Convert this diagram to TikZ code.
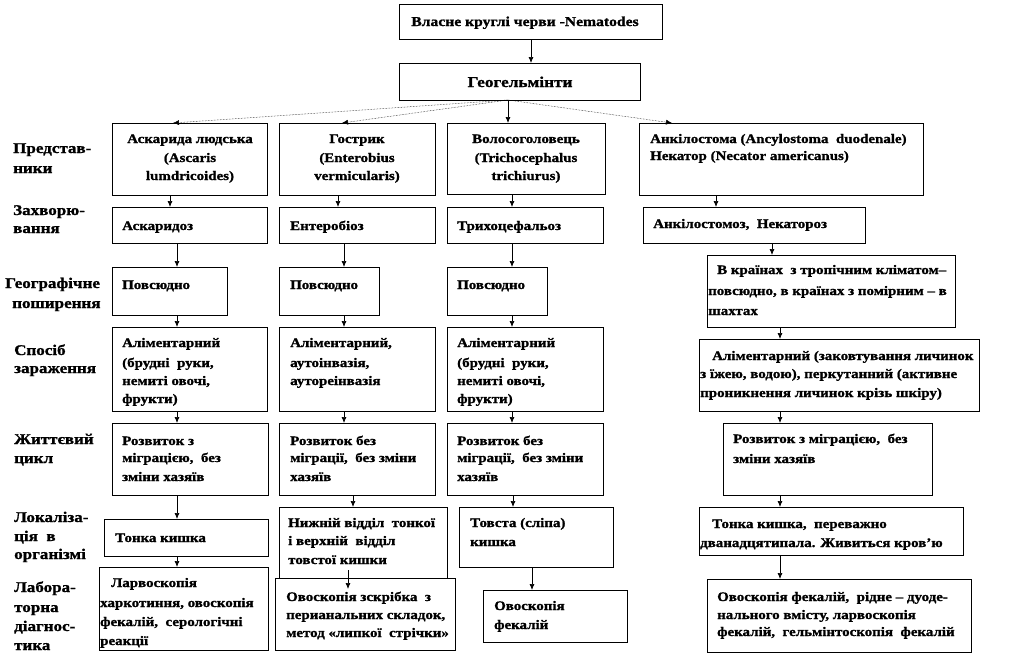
\documentclass[tikz,border=0pt]{standalone}
\usepackage{fontspec}
\newfontfamily\dfont{Liberation Serif Bold}[FakeStretch=1.15,FakeBold=1.2]
\usetikzlibrary{arrows.meta}
\newcommand\bx[5]{\node[box, minimum width={(#4-(#2))*1pt}, minimum height={(#5-(#3))*1pt}] (#1) at (#2,#3) {};}
\newcommand\tline[4]{\node[txt, anchor=base west] (#1) at (#2,#3) {#4};}
\newcommand\lline[4]{\node[txt, lbl, anchor=base west] (#1) at (#2,#3) {#4};}
\newcommand\tcen[4]{\node[txt, anchor=base] (#1) at (#2,#3) {#4};}
\newcommand\conn[3]{\path (#3,0) coordinate (tmpx); \draw[arr] (#1.south -| tmpx) -- (#2.north -| tmpx);}
\begin{document}
\begin{tikzpicture}[x=1pt,y=-1pt,
  box/.style={draw, line width=0.8pt, fill=white, inner sep=0pt, outer sep=0pt, anchor=north west},
  txt/.style={inner sep=0pt, font=\dfont\fontsize{13}{16}\selectfont},
  lbl/.style={font=\dfont\fontsize{14.8}{18}\selectfont},
  arr/.style={line width=0.7pt, -{Latex[length=6pt,width=5pt]}},
  darr/.style={line width=0.5pt, densely dotted, -{Latex[length=6pt,width=5pt]}}]
\fill[white] (0,0) rectangle (1019,654);
\useasboundingbox (0,0) rectangle (1019,654);

% title
\bx{top}{399}{4}{662}{39}
\node[txt, font=\dfont\fontsize{13.6}{16}\selectfont, anchor=base] (topt) at (525,26) {Власне круглі черви -Nematodes};
\bx{geo}{399}{63}{640}{100}
\node[txt, font=\dfont\fontsize{15}{18}\selectfont, anchor=base] (geot) at (520,87) {Геогельмінти};

% left labels
\lline{l1a}{13}{153}{Представ-}
\lline{l1b}{13}{173}{ники}
\lline{l2a}{13}{215}{Захворю-}
\lline{l2b}{13}{233}{вання}
\lline{l3a}{5}{288}{Географічне}
\lline{l3b}{12}{308}{поширення}
\lline{l4a}{14}{355}{Спосіб}
\lline{l4b}{14}{373}{зараження}
\lline{l5a}{14}{444}{Життєвий}
\lline{l5b}{14}{463}{цикл}
\lline{l6a}{14}{522}{Локаліза-}
\lline{l6b}{14}{541}{ція~~в}
\lline{l6c}{14}{559}{організмі}
\lline{l7a}{14}{592}{Лабора-}
\lline{l7b}{14}{612}{торна}
\lline{l7c}{14}{631}{діагнос-}
\lline{l7d}{14}{650}{тика}

% row 1
\bx{a1}{112}{123}{267}{195}
\tcen{a1a}{190}{143}{Аскарида людська}
\tcen{a1b}{190}{162}{(Ascaris}
\tcen{a1c}{190}{180}{lumdricoides)}
\bx{b1}{279}{123}{435}{195}
\tcen{b1a}{357}{143}{Гострик}
\tcen{b1b}{357}{162}{(Enterobius}
\tcen{b1c}{357}{180}{vermicularis)}
\bx{c1}{447}{123}{605}{194}
\tcen{c1a}{526}{143}{Волосоголовець}
\tcen{c1b}{526}{162}{(Trichocephalus}
\tcen{c1c}{526}{180}{trichiurus)}
\bx{d1}{639}{123}{923}{195}
\tline{d1a}{650}{143}{Анкілостома (Ancylostoma~ duodenale)}
\tline{d1b}{650}{160}{Некатор (Necator americanus)}

% row 2
\bx{a2}{112}{207}{267}{243}
\tline{a2a}{122}{230}{Аскаридоз}
\bx{b2}{279}{207}{435}{243}
\tline{b2a}{290}{230}{Ентеробіоз}
\bx{c2}{447}{207}{603}{243}
\tline{c2a}{457}{230}{Трихоцефальоз}
\bx{d2}{643}{207}{865}{243}
\tline{d2a}{653}{228}{Анкілостомоз,~ Некатороз}

% row 3
\bx{a3}{112}{267}{227}{315}
\tline{a3a}{122}{289}{Повсюдно}
\bx{b3}{279}{267}{379}{315}
\tline{b3a}{290}{289}{Повсюдно}
\bx{c3}{447}{267}{547}{315}
\tline{c3a}{457}{289}{Повсюдно}
\bx{d3}{707}{255}{955}{327}
\tline{d3a}{717}{274}{В країнах~ з тропічним кліматом–}
\tline{d3b}{708}{295}{повсюдно, в країнах з помірним – в}
\tline{d3c}{708}{315}{шахтах}

% row 4
\bx{a4}{112}{327}{267}{411}
\tline{a4a}{122}{347}{Аліментарний}
\tline{a4b}{122}{367}{(брудні~ руки,}
\tline{a4c}{122}{385}{немиті овочі,}
\tline{a4d}{122}{403}{фрукти)}
\bx{b4}{279}{327}{435}{411}
\tline{b4a}{290}{347}{Аліментарний,}
\tline{b4b}{290}{367}{аутоінвазія,}
\tline{b4c}{290}{385}{аутореінвазія}
\bx{c4}{447}{327}{603}{411}
\tline{c4a}{457}{347}{Аліментарний}
\tline{c4b}{457}{367}{(брудні~ руки,}
\tline{c4c}{457}{385}{немиті овочі,}
\tline{c4d}{457}{403}{фрукти)}
\bx{d4}{699}{339}{979}{411}
\tline{d4a}{712}{360}{Аліментарний (заковтування личинок}
\tline{d4b}{700}{378}{з їжею, водою), перкутанний (активне}
\tline{d4c}{700}{397}{проникнення личинок крізь шкіру)}

% row 5
\bx{a5}{112}{423}{268}{495}
\tline{a5a}{122}{445}{Розвиток з}
\tline{a5b}{122}{462}{міграцією,~ без}
\tline{a5c}{122}{481}{зміни хазяїв}
\bx{b5}{279}{423}{435}{495}
\tline{b5a}{290}{445}{Розвиток без}
\tline{b5b}{290}{462}{міграції,~ без зміни}
\tline{b5c}{290}{481}{хазяїв}
\bx{c5}{447}{423}{603}{495}
\tline{c5a}{457}{445}{Розвиток без}
\tline{c5b}{457}{462}{міграції,~ без зміни}
\tline{c5c}{457}{481}{хазяїв}
\bx{d5}{723}{423}{932}{495}
\tline{d5a}{733}{443}{Розвиток з міграцією,~ без}
\tline{d5b}{733}{463}{зміни хазяїв}

% row 6
\bx{a6}{104}{519}{268}{556}
\tline{a6a}{115}{542}{Тонка кишка}
\bx{b6}{279}{507}{447}{584}
\tline{b6a}{288}{527}{Нижній відділ~ тонкої}
\tline{b6b}{288}{545}{і верхній~ відділ}
\tline{b6c}{288}{564}{товстої кишки}
\bx{c6}{459}{507}{613}{567}
\tline{c6a}{470}{527}{Товста (сліпа)}
\tline{c6b}{470}{546}{кишка}
\bx{d6}{699}{507}{963}{555}
\tline{d6a}{712}{528}{Тонка кишка,~ переважно}
\tline{d6b}{700}{547}{дванадцятипала. Живиться кров’ю}

% row 7
\bx{a7}{99}{567}{268}{650}
\tline{a7a}{111}{587}{Ларвоскопія}
\tline{a7b}{100}{607}{харкотиння, овоскопія}
\tline{a7c}{100}{626}{фекалій,~ серологічні}
\tline{a7d}{100}{645}{реакції}
\bx{b7}{275}{578}{455}{650}
\tline{b7a}{286}{601}{Овоскопія зскрібка~ з}
\tline{b7b}{286}{619}{перианальних складок,}
\tline{b7c}{286}{637}{метод «липкої~ стрічки»}
\bx{c7}{483}{590}{627}{642}
\tline{c7a}{494}{610}{Овоскопія}
\tline{c7b}{494}{629}{фекалій}
\bx{d7}{707}{579}{971}{652}
\tline{d7a}{717}{601}{Овоскопія фекалій,~ рідне – дуоде-}
\tline{d7b}{717}{619}{нального вмісту, ларвоскопія}
\tline{d7c}{717}{636}{фекалій,~ гельмінтоскопія~ фекалій}

% connectors
\conn{top}{geo}{531}
\coordinate (gx) at (508,0);
\coordinate (ax) at (173,0);
\coordinate (bx) at (342,0);
\coordinate (dx) at (672,0);
\draw[darr] (geo.south -| gx) -- (a1.north -| ax);
\draw[darr] (geo.south -| gx) -- (b1.north -| bx);
\draw[arr] (geo.south -| gx) -- (c1.north -| gx);
\draw[darr] (geo.south -| gx) -- (d1.north -| dx);

\conn{a1}{a2}{170}
\conn{a2}{a3}{177}
\conn{a3}{a4}{177}
\conn{a4}{a5}{177}
\conn{a5}{a6}{177}
\conn{a6}{a7}{177}

\conn{b1}{b2}{338}
\conn{b2}{b3}{344}
\conn{b3}{b4}{344}
\conn{b4}{b5}{344}
\conn{b5}{b6}{353}
\coordinate (b6x) at (348,570);
\coordinate (b7x) at (348,589);
\draw[arr] (b6x) -- (b7x);

\conn{c1}{c2}{512}
\conn{c2}{c3}{512}
\conn{c3}{c4}{512}
\conn{c4}{c5}{512}
\conn{c5}{c6}{513}
\conn{c6}{c7}{532}

\conn{d1}{d2}{716}
\conn{d2}{d3}{772}
\conn{d3}{d4}{780}
\conn{d4}{d5}{780}
\conn{d5}{d6}{780}
\conn{d6}{d7}{780}
\end{tikzpicture}
\end{document}
